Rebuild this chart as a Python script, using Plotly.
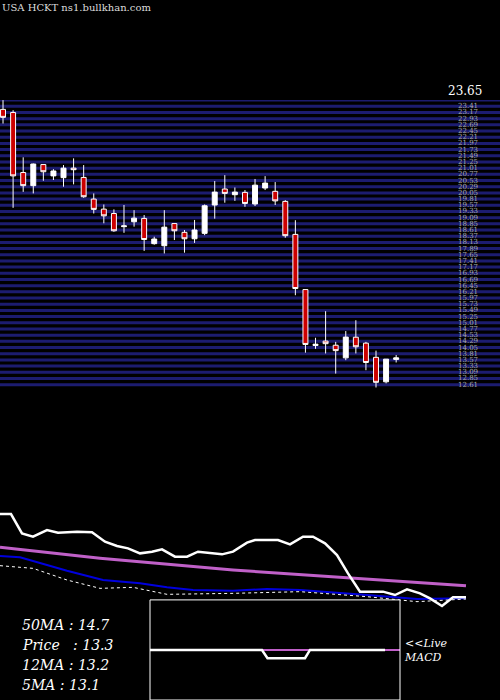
import plotly.graph_objects as go

opens  = [23.29,23.17,20.84,20.33,21.15,20.71,20.64,21.01,20.65,19.81,19.42,19.25,18.74,18.93,19.06,18.08,18.00,18.86,18.52,18.27,
          18.48,19.58,20.20,19.98,20.07,19.62,20.24,20.11,19.72,18.44,16.30,14.13,14.30,14.14,13.65,14.45,14.22,13.67,12.72,13.59]
closes = [22.98,20.71,20.33,21.17,20.87,20.90,21.01,20.95,19.90,19.41,19.16,18.58,18.77,19.07,18.24,18.26,18.72,18.58,18.27,18.61,
          19.55,20.08,20.03,20.08,19.64,20.35,20.43,19.74,18.39,16.34,14.17,14.18,14.20,13.93,14.455,14.08,13.47,12.70,13.60,13.65]
highs  = [23.65,23.26,21.43,21.19,21.15,20.97,21.13,21.39,21.13,20.03,19.60,19.41,19.58,19.38,19.19,18.35,19.38,18.86,18.61,19.00,
          19.60,20.51,20.74,20.26,20.16,20.59,20.70,20.47,19.77,18.99,16.30,14.43,15.46,14.27,14.69,15.11,14.27,13.93,13.60,13.76]
lows   = [22.74,19.47,20.09,20.03,20.52,20.55,20.29,20.38,19.86,19.25,18.87,18.54,18.50,18.74,17.80,18.04,17.70,18.22,17.73,18.11,
          18.41,19.05,19.67,19.74,19.51,19.54,20.16,19.58,18.31,16.08,13.85,14.00,13.82,13.04,13.56,13.82,13.17,12.50,12.66,13.47]
days = list(range(len(opens)))

grid_levels = [23.65,23.41,23.17,22.93,22.69,22.45,22.21,21.97,21.73,21.49,21.25,21.01,20.77,20.53,20.29,20.05,19.81,19.57,
               19.33,19.09,18.85,18.61,18.37,18.13,17.89,17.65,17.41,17.17,16.93,16.69,16.45,16.21,15.97,15.73,15.49,15.25,
               15.01,14.77,14.53,14.29,14.05,13.81,13.57,13.33,13.09,12.85,12.61]

white_x = [0,11,22,33,47,58,77,92,105,117,128,140,152,162,175,187,198,210,222,233,247,255,278,290,303,313,325,337,348,360,383,395,407,420,430,442,453,466]
white_y = [55.8,55.8,50,49,51,50.2,50.5,50.3,47.5,46.2,45.5,44,44.5,45.2,43,43,44.5,44,43.7,44.5,47.2,48,48,46.7,49,49,47,43.5,38,32.5,32.5,31.5,33.2,32,30.5,28.2,30.8,30.8]
ma50_x = [0,100,233,333,466]
ma50_y = [45.8,42.5,39,37,34.3]
ma12_x = [0,20,67,103,140,167,193,233,267,300,367,417,466]
ma12_y = [43.2,42.8,38.8,36,35,33.8,33,32.8,33.3,33,31.5,30.3,30.5]
ma5_x = [0,33,67,100,133,167,233,300,367,417,466]
ma5_y = [40.3,39.5,36,33.5,33.8,31.7,32,32.5,31,29.5,30.3]

macd_x = [0,44.8,47,52,62,64,94]
macd_y = [0,0,-0.9,-0.9,-0.9,0,0]
sig_x = [0,100]
sig_y = [0,0]

labels = ["50MA : 14.7", "Price   : 13.3", "12MA : 13.2", "5MA : 13.1"]

fig = go.Figure()
for lv in grid_levels:
    fig.add_shape(type="line", xref="paper", yref="y", x0=0, x1=1, y0=lv, y1=lv,
                  line=dict(color="#1c1c70", width=3), layer="below")
fig.add_trace(go.Candlestick(x=days, open=opens, high=highs, low=lows, close=closes,
    increasing=dict(fillcolor="white", line=dict(color="white", width=1)),
    decreasing=dict(fillcolor="#cc0000", line=dict(color="white", width=1)),
    whiskerwidth=0, xaxis="x", yaxis="y"))
for i, lv in enumerate(grid_levels[1:]):
    fig.add_annotation(x=0.935, xref="paper", y=lv, yref="y", text=f"{lv:.2f}", showarrow=False,
                       font=dict(size=7, color="#aaaaaa", family="DejaVu Serif"), xanchor="center")
fig.add_annotation(x=0.93, xref="paper", y=grid_levels[0], yref="y", yshift=9, text="23.65", showarrow=False,
                   font=dict(size=12, color="white", family="DejaVu Serif"), xanchor="center")

fig.add_trace(go.Scatter(x=ma50_x, y=ma50_y, mode="lines", line=dict(color="#c060c8", width=3), xaxis="x2", yaxis="y2"))
fig.add_trace(go.Scatter(x=ma12_x, y=ma12_y, mode="lines", line=dict(color="#0000dd", width=2), xaxis="x2", yaxis="y2"))
fig.add_trace(go.Scatter(x=ma5_x, y=ma5_y, mode="lines", line=dict(color="white", width=1, dash="dot"), xaxis="x2", yaxis="y2"))
fig.add_trace(go.Scatter(x=white_x, y=white_y, mode="lines", line=dict(color="white", width=2.5), xaxis="x2", yaxis="y2"))

fig.add_trace(go.Scatter(x=sig_x, y=sig_y, mode="lines", line=dict(color="#c060c8", width=2), xaxis="x3", yaxis="y3"))
fig.add_trace(go.Scatter(x=macd_x, y=macd_y, mode="lines", line=dict(color="white", width=2.5), xaxis="x3", yaxis="y3"))

for i, t in enumerate(labels):
    fig.add_annotation(x=20, xref="x2", y=22.5 - i*6, yref="y2", text=f"<i>{t}</i>", showarrow=False, xanchor="left",
                       font=dict(size=14, color="white", family="DejaVu Serif"))
fig.add_annotation(x=0.803, xref="paper", y=0.049, yref="paper", text="<i>&lt;&lt;Live<br>MACD</i>", showarrow=False,
                   xanchor="left", align="left", font=dict(size=11, color="white", family="DejaVu Serif"))
fig.add_annotation(x=0.0, xref="paper", y=1.0, yref="paper", text="USA HCKT ns1.bullkhan.com", showarrow=False,
                   xanchor="left", yanchor="top", font=dict(size=10, color="#dddddd", family="DejaVu Serif"))

fig.update_layout(
    width=500, height=700, margin=dict(l=0, r=0, t=0, b=0, pad=0, autoexpand=False),
    paper_bgcolor="black", plot_bgcolor="black", showlegend=False,
    xaxis=dict(range=[-0.3, 49.3], domain=[0, 1], visible=False, rangeslider=dict(visible=False)),
    yaxis=dict(range=[12.48, 23.65], domain=[0.4457, 0.857], visible=False),
    xaxis2=dict(range=[0, 500], domain=[0, 1], visible=False, anchor="y2"),
    yaxis2=dict(range=[0, 60], domain=[0, 0.2857], visible=False, anchor="x2"),
    xaxis3=dict(range=[0, 100], domain=[0.3, 0.8], visible=False, anchor="y3"),
    yaxis3=dict(range=[-5.5, 5.5], domain=[0, 0.143], visible=False, anchor="x3"),
)
fig.add_shape(type="rect", xref="x3 domain", yref="y3 domain", x0=0, x1=1, y0=0, y1=1,
              line=dict(color="white", width=1))
fig.write_html("out.html", config={"displayModeBar": False},
               post_script="document.body.style.margin='0';document.body.style.background='black';")
